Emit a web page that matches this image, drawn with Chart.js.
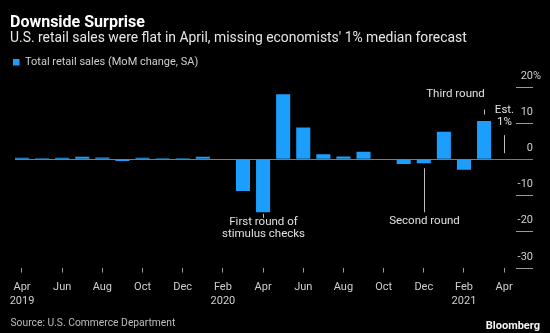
<!DOCTYPE html>
<html>
<head>
<meta charset="utf-8">
<script src="https://cdn.jsdelivr.net/npm/chart.js@4"></script>
<style>
  html, body { margin: 0; padding: 0; background: #000; }
  #wrap { position: relative; width: 550px; height: 333px; }
</style>
</head>
<body>
<div id="wrap"><canvas id="myChart"></canvas></div>
<script>
// monthly change in total retail sales, % (seasonally adjusted)
var months = ["Apr 2019", "May 2019", "Jun 2019", "Jul 2019", "Aug 2019", "Sep 2019", "Oct 2019",
  "Nov 2019", "Dec 2019", "Jan 2020", "Feb 2020", "Mar 2020", "Apr 2020", "May 2020", "Jun 2020",
  "Jul 2020", "Aug 2020", "Sep 2020", "Oct 2020", "Nov 2020", "Dec 2020", "Jan 2021", "Feb 2021",
  "Mar 2021", "Apr 2021"];
var retailSales = [0.4, 0.3, 0.4, 0.7, 0.5, -0.5, 0.4, 0.3, 0.3, 0.7, -0.2, -8.8, -14.7, 18.0, 8.8,
  1.4, 0.8, 2.1, -0.1, -1.3, -1.1, 7.6, -2.9, 10.6, -0.1];

var tickMonths = [0, 2, 4, 6, 8, 10, 12, 14, 16, 18, 20, 22, 24];
var tickLabels = [["Apr", "2019"], "Jun", "Aug", "Oct", "Dec", ["Feb", "2020"], "Apr", "Jun", "Aug",
  "Oct", "Dec", ["Feb", "2021"], "Apr"];
var yTicks = [20, 10, 0, -10, -20, -30];

// notes pinned to months
var notes = [
  { month: "Apr 2020", lines: ["First round of", "stimulus checks"] },
  { month: "Dec 2020", lines: ["Second round"] },
  { month: "Mar 2021", lines: ["Third round"] },
  { month: "Apr 2021", lines: ["Est.", "1%"] }
];

var FONT = "Roboto";
var BLUE = "#1c9ffc";

// y labels on the right, the notes, source line
var decor = {
  id: "decor",
  afterDatasetsDraw: function (chart) {
    var ctx = chart.ctx, x = chart.scales.x, y = chart.scales.y, area = chart.chartArea;
    ctx.save();

    // right hand value axis: short rules with the label sitting on top
    ctx.font = "11px " + FONT;
    ctx.textBaseline = "middle";
    yTicks.forEach(function (v) {
      var py = Math.round(y.getPixelForValue(v)) + 0.5;
      if (v !== 0) {
        ctx.strokeStyle = "#9a9a9a";
        ctx.lineWidth = 1;
        ctx.beginPath();
        ctx.moveTo(area.right - 17, py);
        ctx.lineTo(area.right, py);
        ctx.stroke();
      }
      ctx.fillStyle = "#cfcfcf";
      ctx.textAlign = "right";
      ctx.fillText(String(v), area.right, py - 11);
      if (v === yTicks[0]) {
        ctx.textAlign = "left";
        ctx.fillText("%", area.right, py - 11);
      }
    });

    // notes
    ctx.strokeStyle = "#bdbdbd";
    ctx.fillStyle = "#e0e0e0";
    ctx.font = "11.5px " + FONT;
    ctx.textAlign = "center";
    notes.forEach(function (n) {
      var i = months.indexOf(n.month);
      var px = Math.round(x.getPixelForValue(i)) + 0.5;
      var py = y.getPixelForValue(retailSales[i]);
      var y0, y1, tx, ty;
      if (n.month === "Apr 2020") {
        y0 = py + 1.5; y1 = py + 5.5; tx = px; ty = py + 10;
      } else if (n.month === "Dec 2020") {
        y0 = py + 5; y1 = py + 49; tx = px; ty = py + 58;
      } else if (n.month === "Mar 2021") {
        y0 = py - 11.5; y1 = py - 6.5; tx = px - 29; ty = py - 26.5;
      } else {
        y0 = y.getPixelForValue(6.7); y1 = y.getPixelForValue(1.7); tx = px; ty = y.getPixelForValue(13.6);
      }
      ctx.lineWidth = 1;
      ctx.beginPath();
      ctx.moveTo(px, y0);
      ctx.lineTo(px, y1);
      ctx.stroke();
      n.lines.forEach(function (t, k) {
        ctx.fillText(t, tx, ty + k * 12);
      });
    });

    // source and brand
    ctx.textAlign = "left";
    ctx.fillStyle = "#bcbcbc";
    ctx.font = "10.3px " + FONT;
    ctx.fillText("Source: U.S. Commerce Department", 10.5, 323);
    ctx.textAlign = "right";
    ctx.fillStyle = "#f2f2f2";
    ctx.font = "bold 11px " + FONT;
    ctx.fillText("Bloomberg", 540, 326.5);
    ctx.restore();
  }
};

var ctx = document.getElementById("myChart").getContext("2d");
var myChart = new Chart(ctx, {
  type: "bar",
  data: {
    datasets: [{
      label: "Total retail sales (MoM change, SA)",
      data: retailSales.map(function (v, i) { return { x: i, y: v }; }),
      backgroundColor: BLUE,
      borderWidth: 0,
      barPercentage: 0.7,
      categoryPercentage: 1
    }]
  },
  options: {
    responsive: true,
    maintainAspectRatio: false,
    animation: false,
    layout: { padding: { left: 10, right: 17, top: 0, bottom: 17.5 } },
    font: { family: FONT },
    plugins: {
      title: {
        display: true,
        text: "Downside Surprise",
        align: "start",
        color: "#ffffff",
        font: { family: FONT, size: 16, weight: "bold", lineHeight: 1 },
        padding: { top: 15.3, bottom: 0 }
      },
      subtitle: {
        display: true,
        text: "U.S. retail sales were flat in April, missing economists' 1% median forecast",
        align: "start",
        color: "#e6e6e6",
        font: { family: FONT, size: 13.9, lineHeight: 1 },
        padding: { top: 0.5, bottom: 8 }
      },
      legend: {
        display: true,
        position: "top",
        align: "start",
        labels: {
          boxWidth: 6.5,
          boxHeight: 6.5,
          padding: 3,
          color: "#cfcfcf",
          font: { family: FONT, size: 11 }
        }
      },
      tooltip: { enabled: false }
    },
    scales: {
      x: {
        type: "linear",
        min: -0.348,
        max: 25.436,
        offset: false,
        afterBuildTicks: function (s) {
          s.ticks = tickMonths.map(function (v) { return { value: v }; });
        },
        ticks: {
          autoSkip: false,
          maxRotation: 0,
          padding: 7.5,
          color: "#cfcfcf",
          font: { family: FONT, size: 11, lineHeight: 1.27 },
          callback: function (value) {
            return tickLabels[tickMonths.indexOf(value)];
          }
        },
        grid: { offset: false, drawOnChartArea: false, tickLength: 5, tickColor: "#9a9a9a" },
        border: { display: false }
      },
      y: {
        position: "left",
        min: -30,
        max: 22.61,
        afterBuildTicks: function (s) {
          s.ticks = [{ value: 0 }];
        },
        afterFit: function (s) { s.width = 5; },
        ticks: { display: false },
        grid: { drawTicks: false, color: "#7a7a7a", lineWidth: 1 },
        border: { display: false }
      }
    }
  },
  plugins: [decor]
});
</script>
</body>
</html>
